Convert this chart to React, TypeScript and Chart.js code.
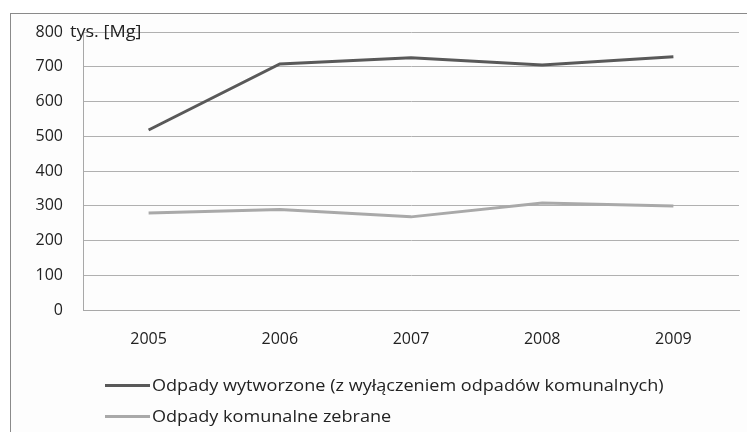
import React, { useEffect, useRef } from "react";
import { Chart, registerables } from "chart.js";

Chart.register(...registerables);

const categories = ["2005", "2006", "2007", "2008", "2009"];
const seriesNames = [
  "Odpady wytworzone (z wyłączeniem odpadów komunalnych)",
  "Odpady komunalne zebrane",
];
const wytworzone = [518, 708, 726, 705, 729];
const komunalne = [279, 289, 268, 308, 299];
const seriesColors = ["#595959", "#a9a9a9"];
const yTicks = [0, 100, 200, 300, 400, 500, 600, 700, 800];
const unitLabel = "tys. [Mg]";

const FONT = "'Open Sans', sans-serif";
const STRETCH = 1.13;

export default function App() {
  const ref = useRef<HTMLCanvasElement | null>(null);

  useEffect(() => {
    if (!ref.current) return;
    const unitPlugin = {
      id: "unitLabel",
      afterDraw(chart: any) {
        const y = chart.scales.y;
        const ctx = chart.ctx;
        ctx.save();
        ctx.font = `16px ${FONT}`;
        ctx.fillStyle = "#222";
        ctx.textBaseline = "middle";
        ctx.textAlign = "left";
        ctx.translate(70, y.getPixelForValue(800));
        ctx.scale(STRETCH, 1);
        ctx.fillText(unitLabel, 0, 0);
        ctx.restore();
      },
    };
    const chart = new Chart(ref.current, {
      type: "line",
      data: {
        labels: categories,
        datasets: [
          {
            label: seriesNames[0],
            data: wytworzone,
            borderColor: seriesColors[0],
            backgroundColor: seriesColors[0],
            borderWidth: 3,
            pointRadius: 0,
            tension: 0,
          },
          {
            label: seriesNames[1],
            data: komunalne,
            borderColor: seriesColors[1],
            backgroundColor: seriesColors[1],
            borderWidth: 3,
            pointRadius: 0,
            tension: 0,
          },
        ],
      },
      options: {
        animation: false,
        responsive: false,
        maintainAspectRatio: false,
        layout: { padding: { left: 0, top: 32, right: 8, bottom: 0 } },
        plugins: { legend: { display: false }, tooltip: { enabled: false } },
        scales: {
          x: {
            offset: true,
            grid: { display: false, drawTicks: false },
            border: { display: true, color: "#a8a8a8", width: 1 },
            ticks: {
              color: "#222",
              font: { family: FONT, size: 16 },
              padding: 20,
              maxRotation: 0,
            },
            afterFit(scale: any) {
              scale.height = 122;
            },
          },
          y: {
            min: 0,
            max: 800,
            afterBuildTicks(scale: any) {
              scale.ticks = yTicks.map((v) => ({ value: v }));
            },
            grid: { color: "#b0b0b0", lineWidth: 1, drawTicks: false },
            border: { display: true, color: "#a8a8a8", width: 1 },
            ticks: {
              color: "#222",
              font: { family: FONT, size: 16 },
              padding: 20,
            },
            afterFit(scale: any) {
              scale.width = 83;
            },
          },
        },
      },
      plugins: [unitPlugin],
    });
    return () => chart.destroy();
  }, []);

  return (
    <div style={{ position: "fixed", left: 0, top: 0, width: 747, height: 432, background: "#fff", overflow: "hidden" }}>
      <div
        style={{
          position: "absolute",
          left: 10,
          top: 13,
          width: 760,
          height: 440,
          border: "1px solid #8a8a8a",
          background: "#fdfdfd",
        }}
      />
      <canvas ref={ref} width={747} height={432} style={{ position: "absolute", left: 0, top: 0 }} />
      <div style={{ position: "absolute", left: 105, top: 371, fontFamily: FONT, fontSize: 16, color: "#222" }}>
        {seriesNames.map((n, i) => (
          <div key={n} style={{ display: "flex", alignItems: "center", height: 28, marginBottom: i === 0 ? 3 : 0 }}>
            <span style={{ display: "inline-block", width: 45, height: 3, background: seriesColors[i], marginRight: 2 }} />
            <span
              style={{
                whiteSpace: "nowrap",
                display: "inline-block",
                transform: `scaleX(${STRETCH})`,
                transformOrigin: "left center",
              }}
            >
              {n}
            </span>
          </div>
        ))}
      </div>
    </div>
  );
}
